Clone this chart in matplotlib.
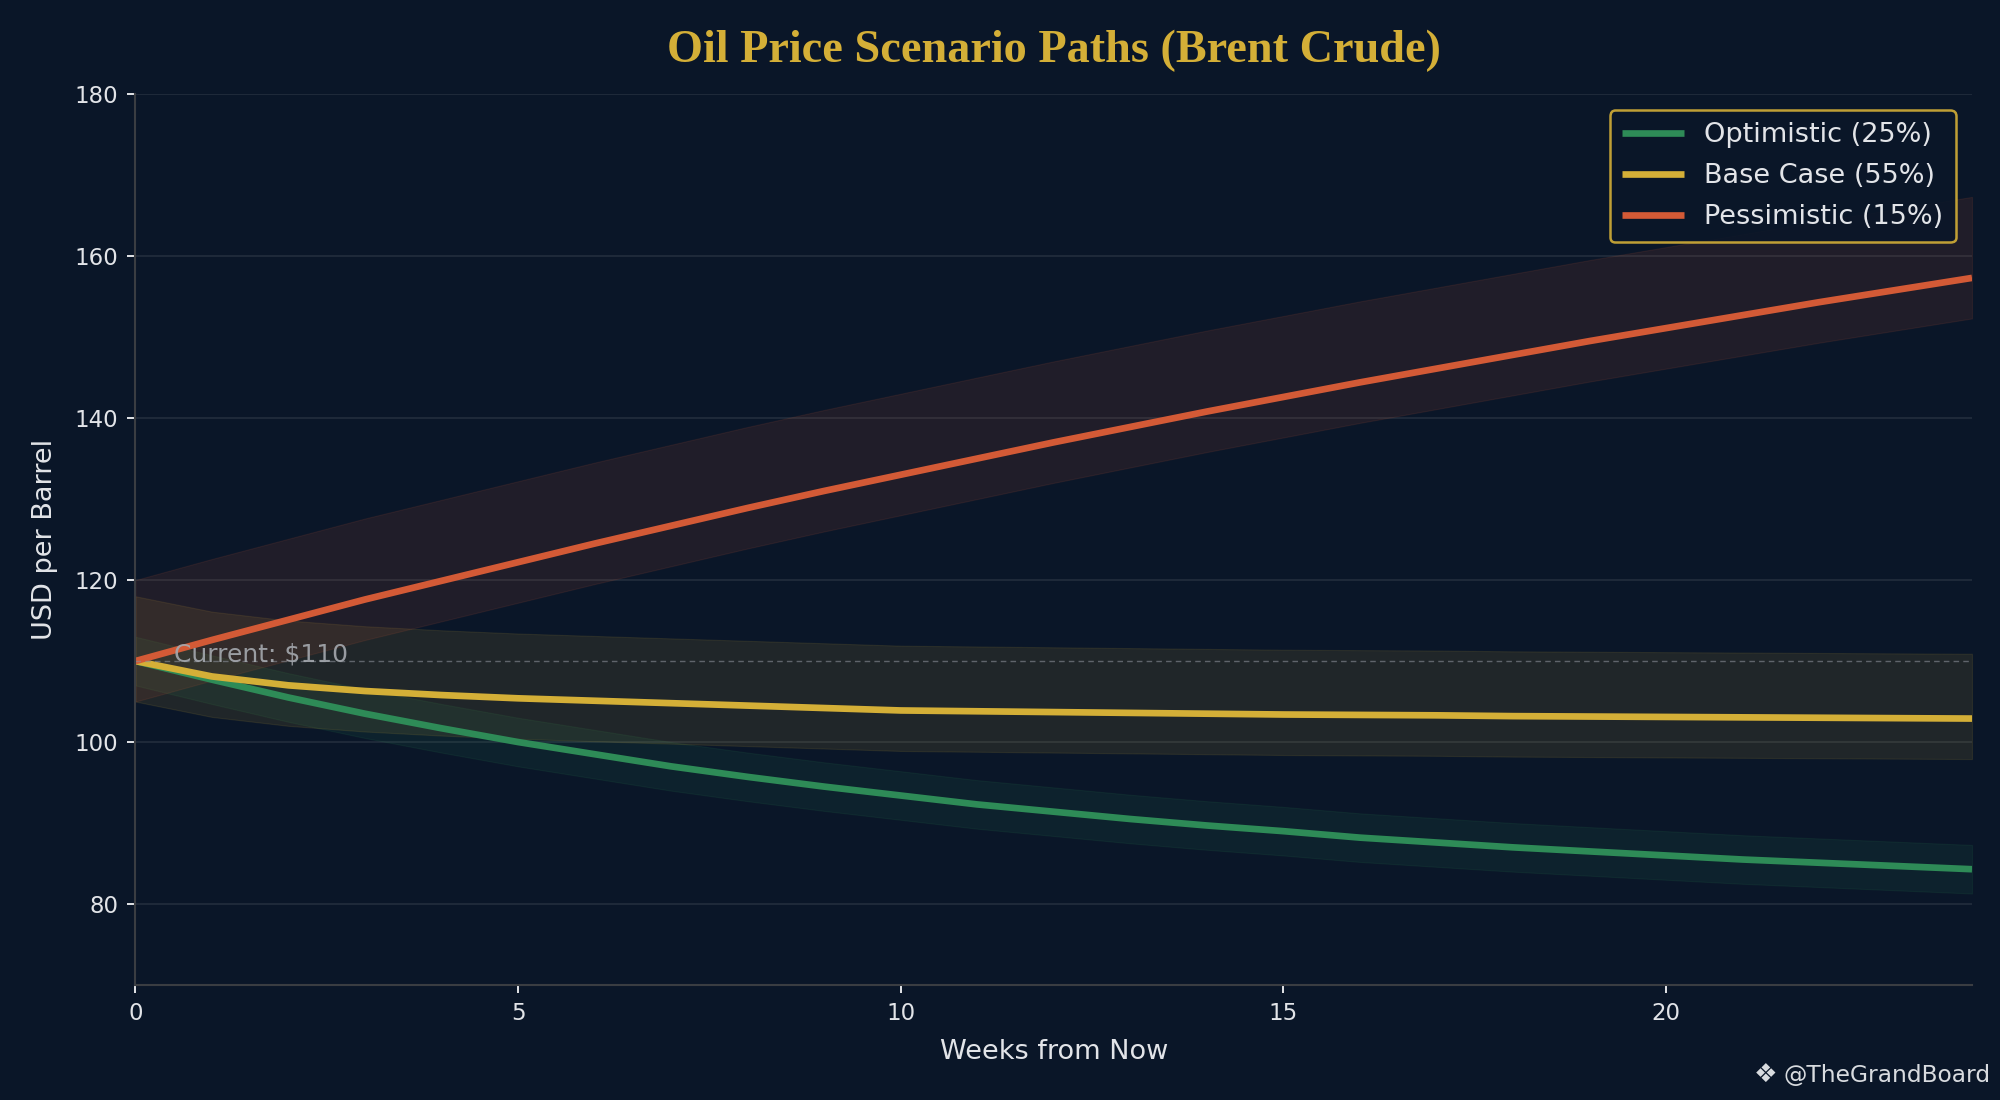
import matplotlib
matplotlib.use("Agg")
import matplotlib.pyplot as plt
import numpy as np

# ---------------- data ----------------
weeks = list(range(0, 25))

optimistic = [110.0, 107.7, 105.5, 103.5, 101.7, 100.0, 98.5, 97.0, 95.7, 94.5,
              93.4, 92.3, 91.4, 90.5, 89.7, 89.0, 88.2, 87.6, 87.0, 86.5,
              86.0, 85.5, 85.1, 84.7, 84.3]
base_case = [110.0, 108.1, 107.0, 106.3, 105.8, 105.4, 105.1, 104.8, 104.5, 104.2,
             103.9, 103.8, 103.7, 103.6, 103.5, 103.4, 103.35, 103.3, 103.2, 103.15,
             103.1, 103.05, 103.0, 102.95, 102.9]
pessimistic = [110.0, 112.6, 115.1, 117.6, 119.9, 122.2, 124.5, 126.7, 128.9, 131.0,
               133.0, 135.0, 137.0, 138.9, 140.8, 142.6, 144.4, 146.1, 147.8, 149.5,
               151.1, 152.7, 154.3, 155.8, 157.3]

# band offsets (upper, lower) around each path
opt_band = (3.0, 3.0)
base_band = (8.0, 5.0)
pess_band = (10.0, 5.0)

labels = ["Optimistic (25%)", "Base Case (55%)", "Pessimistic (15%)"]
current_price = 110
current_label = "Current: $110"

title = "Oil Price Scenario Paths (Brent Crude)"
xlabel = "Weeks from Now"
ylabel = "USD per Barrel"
xticks = [0, 5, 10, 15, 20]
yticks = [80, 100, 120, 140, 160, 180]
wm_icon = "\u2756"
wm_text = "@TheGrandBoard"

# ---------------- style ----------------
BG = "#0A1628"
GREEN = "#2E8B57"
GOLD = "#D4AF37"
RED = "#D35A36"
TXT = "#E2E4E8"

fig = plt.figure(figsize=(20, 11), dpi=100, facecolor=BG)
ax = fig.add_axes([0.0677, 0.1045, 0.9183, 0.81])
ax.set_facecolor(BG)

x = np.array(weeks)
series = [(np.array(optimistic), opt_band, GREEN),
          (np.array(base_case), base_band, GOLD),
          (np.array(pessimistic), pess_band, RED)]

for vals, (up, lo), col in series:
    ax.fill_between(x, vals - lo, vals + up, color=col, alpha=0.11, linewidth=0.8)

for (vals, _, col), lab in zip(series, labels):
    ax.plot(x, vals, color=col, lw=4.8, label=lab, solid_capstyle="butt")

ax.axhline(current_price, color="#8A8F98", lw=1.0, ls=(0, (4, 3)), alpha=0.6)
ax.text(0.5, current_price, current_label, color="#A5A9AF", fontsize=18,
        va="baseline", ha="left", alpha=0.9)

ax.set_xlim(0, 24)
ax.set_ylim(70, 180)
ax.set_xticks(xticks)
ax.set_yticks(yticks)
ax.grid(axis="y", color="#1F2A3A", lw=1.4)
ax.set_axisbelow(True)

for s in ["top", "right"]:
    ax.spines[s].set_visible(False)
for s in ["left", "bottom"]:
    ax.spines[s].set_color("#3A3D42")
    ax.spines[s].set_linewidth(1.5)

ax.tick_params(colors=TXT, labelsize=16.5, length=5.5, width=1.4, pad=7)
ax.set_xlabel(xlabel, color=TXT, fontsize=19.5, labelpad=10)
ax.set_ylabel(ylabel, color=TXT, fontsize=19.5, labelpad=12)

ax.set_title(title, color=GOLD, fontsize=33.3, fontweight="bold",
             family="Liberation Serif", pad=23)

leg = ax.legend(loc="upper right", fontsize=19.5, facecolor=BG, edgecolor=GOLD,
                framealpha=0.9, labelspacing=0.55, handlelength=2.3,
                handletextpad=0.75, borderpad=0.45, borderaxespad=0.6)
leg.get_frame().set_linewidth(1.8)
for t in leg.get_texts():
    t.set_color(TXT)

fig.text(0.9955, 0.016, wm_text, color="#D8DBDF", fontsize=16.8,
         ha="right", va="baseline")
fig.text(0.8885, 0.0165, wm_icon, color="#D8DBDF", fontsize=19,
         ha="right", va="baseline")

fig.savefig("out.png", dpi=100, facecolor=BG)
